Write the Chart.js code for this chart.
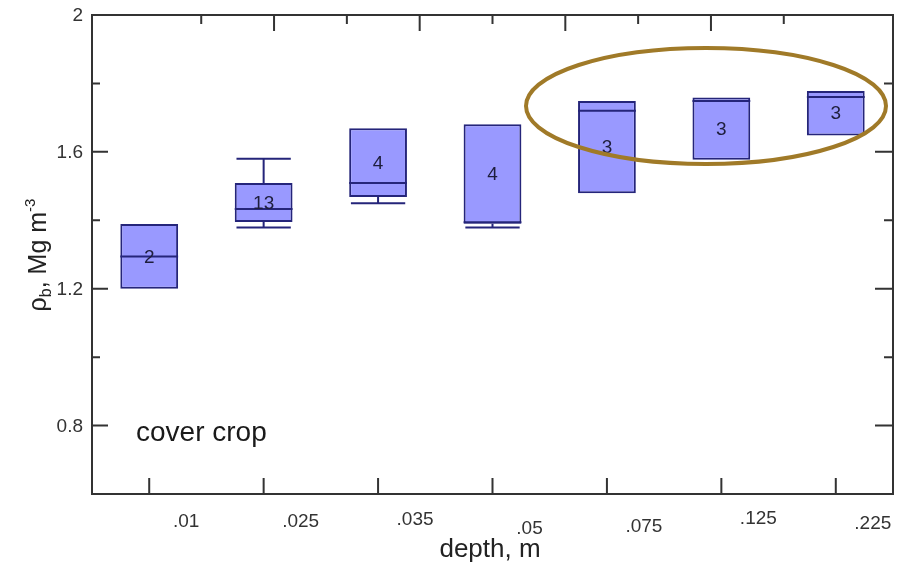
<!DOCTYPE html>
<html>
<head>
<meta charset="utf-8">
<script src="https://cdn.jsdelivr.net/npm/chart.js@4/dist/chart.umd.min.js"></script>
<style>
  html, body { margin: 0; padding: 0; background: #fff; }
  #wrap { width: 900px; height: 567px; }
</style>
</head>
<body>
<div id="wrap"><canvas id="chart" width="900" height="567"></canvas></div>
<script>
// bulk density by depth (cover crop)
const depthLabels = ['.01', '.025', '.035', '.05', '.075', '.125', '.225'];
const boxLow      = [1.200, 1.395, 1.468, 1.390, 1.479, 1.577, 1.648];
const boxHigh     = [1.389, 1.509, 1.669, 1.681, 1.749, 1.759, 1.778];
const medians     = [1.294, 1.433, 1.509, 1.394, 1.720, 1.749, 1.760];
const whiskerLow  = [null, 1.379, 1.450, 1.379, null, null, null];
const whiskerHigh = [null, 1.580, null, null, null, null, null];
const counts      = [2, 13, 4, 4, 3, 3, 3];

const yMajorTicks = [0.8, 1.2, 1.6, 2];
const yMinorTicks = [1.0, 1.4, 1.8];
const topMajorTicks = [0.2, 0.4, 0.6, 0.8];
const topMinorTicks = [0.1, 0.3, 0.5, 0.7, 0.9];

const FONT = '"Liberation Sans", Arial, sans-serif';
const AXIS = '#333';
const NAVY = '#25257a';

// small vertical nudges for the depth labels
const labelNudge = [0, 0, -2, 7, 5, -3, 2];

const boxPlot = {
  id: 'boxPlot',
  afterDatasetsDraw(chart) {
    const { ctx, scales: { x, y } } = chart;
    const meta = chart.getDatasetMeta(0);
    ctx.save();
    ctx.strokeStyle = NAVY;
    ctx.lineWidth = 2;
    meta.data.forEach((bar, i) => {
      const cx = x.getPixelForValue(i);
      const half = bar.width / 2;
      const cap = half * 0.94;
      // median
      ctx.beginPath();
      ctx.moveTo(cx - half, y.getPixelForValue(medians[i]));
      ctx.lineTo(cx + half, y.getPixelForValue(medians[i]));
      ctx.stroke();
      // whiskers
      if (whiskerHigh[i] != null) {
        const wy = y.getPixelForValue(whiskerHigh[i]);
        ctx.beginPath();
        ctx.moveTo(cx, y.getPixelForValue(boxHigh[i]));
        ctx.lineTo(cx, wy);
        ctx.moveTo(cx - cap, wy);
        ctx.lineTo(cx + cap, wy);
        ctx.stroke();
      }
      if (whiskerLow[i] != null) {
        const wy = y.getPixelForValue(whiskerLow[i]);
        ctx.beginPath();
        ctx.moveTo(cx, y.getPixelForValue(boxLow[i]));
        ctx.lineTo(cx, wy);
        ctx.moveTo(cx - cap, wy);
        ctx.lineTo(cx + cap, wy);
        ctx.stroke();
      }
      // sample count in the middle of the box
      ctx.fillStyle = '#1e1e3c';
      ctx.font = '19px ' + FONT;
      ctx.textAlign = 'center';
      ctx.textBaseline = 'middle';
      ctx.fillText(String(counts[i]), cx, y.getPixelForValue((boxLow[i] + boxHigh[i]) / 2) + 1);
    });
    ctx.restore();
  }
};

const frame = {
  id: 'frame',
  afterDraw(chart) {
    const { ctx, chartArea: a, scales: { x, y, x2 } } = chart;
    ctx.save();
    ctx.strokeStyle = AXIS;
    ctx.lineWidth = 2;
    ctx.strokeRect(a.left, a.top, a.right - a.left, a.bottom - a.top);

    ctx.beginPath();
    // left and right ticks point into the plot
    yMajorTicks.forEach(v => {
      const py = y.getPixelForValue(v);
      ctx.moveTo(a.left, py); ctx.lineTo(a.left + 16, py);
      ctx.moveTo(a.right, py); ctx.lineTo(a.right - 18, py);
    });
    yMinorTicks.forEach(v => {
      const py = y.getPixelForValue(v);
      ctx.moveTo(a.left, py); ctx.lineTo(a.left + 8, py);
      ctx.moveTo(a.right, py); ctx.lineTo(a.right - 9, py);
    });
    // top ticks
    topMajorTicks.forEach(v => {
      const px = x2.getPixelForValue(v);
      ctx.moveTo(px, a.top); ctx.lineTo(px, a.top + 16);
    });
    topMinorTicks.forEach(v => {
      const px = x2.getPixelForValue(v);
      ctx.moveTo(px, a.top); ctx.lineTo(px, a.top + 9);
    });
    // bottom ticks at the categories
    depthLabels.forEach((_, i) => {
      const px = x.getPixelForValue(i);
      ctx.moveTo(px, a.bottom); ctx.lineTo(px, a.bottom - 16);
    });
    ctx.stroke();

    // y tick labels
    ctx.fillStyle = '#333';
    ctx.font = '19px ' + FONT;
    ctx.textAlign = 'right';
    ctx.textBaseline = 'middle';
    yMajorTicks.forEach(v => {
      ctx.fillText(String(v), a.left - 9, y.getPixelForValue(v) + 1);
    });

    // depth labels sit right of their ticks
    ctx.textAlign = 'center';
    ctx.textBaseline = 'alphabetic';
    depthLabels.forEach((lab, i) => {
      ctx.fillText(lab, x.getPixelForValue(i) + 37, a.bottom + 33 + labelNudge[i]);
    });

    // axis titles
    ctx.fillStyle = '#222';
    ctx.font = '26px ' + FONT;
    ctx.fillText('depth, m', 490, 557);

    ctx.save();
    ctx.translate(46, 255);
    ctx.rotate(-Math.PI / 2);
    const parts = [
      { t: 'ρ', f: '25px', dy: 0 },
      { t: 'b', f: '16px', dy: 5 },
      { t: ', Mg m', f: '25px', dy: 0 },
      { t: '-3', f: '15px', dy: -11 }
    ];
    let total = 0;
    parts.forEach(p => { ctx.font = p.f + ' ' + FONT; total += ctx.measureText(p.t).width; });
    let cx = -total / 2;
    ctx.textAlign = 'left';
    parts.forEach(p => {
      ctx.font = p.f + ' ' + FONT;
      ctx.fillText(p.t, cx, p.dy);
      cx += ctx.measureText(p.t).width;
    });
    ctx.restore();

    // panel label
    ctx.font = '28px ' + FONT;
    ctx.textAlign = 'left';
    ctx.fillStyle = '#1a1a1a';
    ctx.fillText('cover crop', 136, 441);

    // highlight around the deepest three layers
    ctx.strokeStyle = '#a07a28';
    ctx.lineWidth = 4;
    ctx.beginPath();
    ctx.ellipse(706, 106, 180, 58, 0, 0, Math.PI * 2);
    ctx.stroke();
    ctx.restore();
  }
};

new Chart(document.getElementById('chart'), {
  type: 'bar',
  data: {
    labels: depthLabels,
    datasets: [{
      data: boxLow.map((lo, i) => [lo, boxHigh[i]]),
      backgroundColor: '#9999ff',
      borderColor: NAVY,
      borderWidth: 2,
      borderSkipped: false,
      barPercentage: 0.505,
      categoryPercentage: 1
    }]
  },
  options: {
    responsive: false,
    devicePixelRatio: 1,
    animation: false,
    layout: { padding: { left: 92, right: 7, top: 15, bottom: 73 } },
    plugins: { legend: { display: false }, tooltip: { enabled: false } },
    scales: {
      x: { type: 'category', offset: true, display: false, grid: { display: false } },
      x2: { type: 'linear', position: 'top', min: 0, max: 1, display: false },
      y: { type: 'linear', min: 0.6, max: 2, display: false }
    }
  },
  plugins: [boxPlot, frame]
});
</script>
</body>
</html>
